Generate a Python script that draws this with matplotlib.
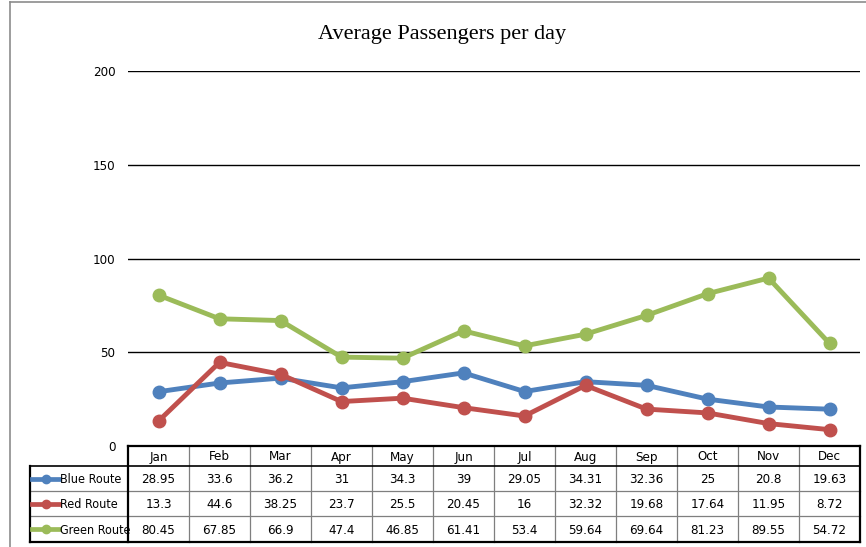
import matplotlib
matplotlib.use("Agg")
import matplotlib.pyplot as plt
from matplotlib.lines import Line2D

months = ["Jan", "Feb", "Mar", "Apr", "May", "Jun", "Jul", "Aug", "Sep", "Oct", "Nov", "Dec"]
route_names = ["Blue Route", "Red Route", "Green Route"]
blue_route = [28.95, 33.6, 36.2, 31, 34.3, 39, 29.05, 34.31, 32.36, 25, 20.8, 19.63]
red_route = [13.3, 44.6, 38.25, 23.7, 25.5, 20.45, 16, 32.32, 19.68, 17.64, 11.95, 8.72]
green_route = [80.45, 67.85, 66.9, 47.4, 46.85, 61.41, 53.4, 59.64, 69.64, 81.23, 89.55, 54.72]
y_ticks = [0, 50, 100, 150, 200]

colors = ["#4F81BD", "#C0504D", "#9BBB59"]
series = [blue_route, red_route, green_route]

plt.rcParams["font.family"] = ["DejaVu Sans"]
plt.rcParams["font.stretch"] = "condensed"

W, H = 866, 547
fig = plt.figure(figsize=(W / 100, H / 100), dpi=100)

def fx(px):
    return px / W

def fy(py):
    return 1 - py / H

# outer chart border
fig.add_artist(Line2D([fx(10), fx(10)], [0, fy(2)], color="#8c8c8c", lw=1.2))
fig.add_artist(Line2D([fx(10), 1], [fy(2), fy(2)], color="#8c8c8c", lw=1.2))

left, right = 128, 860
top, bottom = 71, 446
ax = fig.add_axes([fx(left), fy(bottom), fx(right - left), fy(top) - fy(bottom)])
ax.set_xlim(-0.5, len(months) - 0.5)
ax.set_ylim(0, 200)
for s in ax.spines.values():
    s.set_visible(False)
for t in y_ticks[1:]:
    ax.axhline(t, color="black", lw=1.0, zorder=1)
ax.set_yticks(y_ticks)
ax.set_yticklabels([str(t) for t in y_ticks], fontsize=9.5)
ax.tick_params(axis="y", length=0, pad=9)
ax.set_xticks([])

x = list(range(len(months)))
for vals, c in zip(series, colors):
    ax.plot(x, vals, color=c, lw=3.5, marker="o", markersize=9, zorder=3, clip_on=False)

fig.text(0.51, fy(35), "Average Passengers per day", ha="center", va="center",
         fontsize=16, family="Liberation Serif", stretch="normal")

# data table under the plot
tab = fig.add_axes([fx(left), 0, fx(right - left), 1])
tab.set_xlim(-0.5, len(months) - 0.5)
tab.set_ylim(H, 0)
tab.axis("off")
col_w = (right - left) / len(months)
label_left = -0.5 - (left - 30) / col_w
rows = [446, 466, 491, 516, 542]
kw = dict(clip_on=False)

# inner grid lines
for i in range(1, len(months)):
    tab.plot([i - 0.5, i - 0.5], [rows[0], rows[-1]], color="#7f7f7f", lw=0.9, **kw)
for r in rows[2:-1]:
    tab.plot([label_left, 11.5], [r, r], color="#7f7f7f", lw=0.9, **kw)
# outer borders
tab.plot([-0.5, 11.5], [rows[0], rows[0]], color="black", lw=1.6, **kw)
tab.plot([label_left, 11.5], [rows[1], rows[1]], color="black", lw=1.2, **kw)
tab.plot([label_left, 11.5], [rows[-1], rows[-1]], color="black", lw=1.6, **kw)
tab.plot([-0.5, -0.5], [rows[0], rows[-1]], color="black", lw=1.6, **kw)
tab.plot([11.5, 11.5], [rows[0], rows[-1]], color="black", lw=1.6, **kw)
tab.plot([label_left, label_left], [rows[1], rows[-1]], color="black", lw=1.6, **kw)

for i, m in enumerate(months):
    tab.text(i, (rows[0] + rows[1]) / 2 + 1, m, ha="center", va="center", fontsize=9.5)

for j, (name, vals, c) in enumerate(zip(route_names, series, colors)):
    yc = (rows[j + 1] + rows[j + 2]) / 2
    k0 = label_left + 2 / col_w
    k1 = label_left + 29 / col_w
    tab.plot([k0, k1], [yc, yc], color=c, lw=3.4, **kw)
    tab.plot([(k0 + k1) / 2], [yc], color=c, marker="o", markersize=6, **kw)
    tab.text(k1 + 1 / col_w, yc + 1, name, ha="left", va="center", fontsize=9)
    for i, v in enumerate(vals):
        tab.text(i, yc + 1, f"{v:g}", ha="center", va="center", fontsize=9.5)

fig.savefig("out.png", dpi=100)
